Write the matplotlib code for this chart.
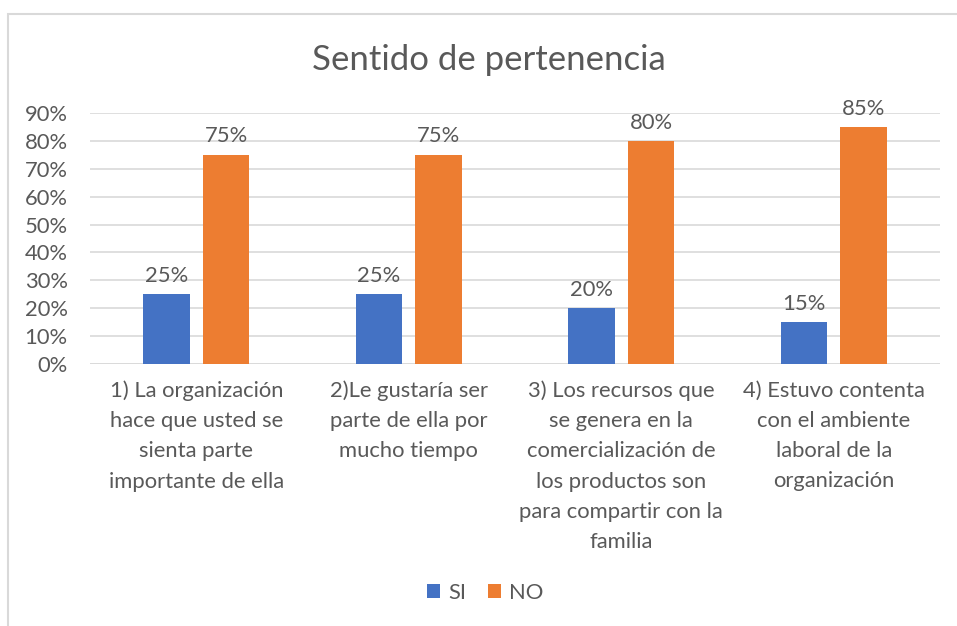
import matplotlib
matplotlib.use("Agg")
import matplotlib.pyplot as plt
from matplotlib.patches import Rectangle
import numpy as np

categorias = [
    "1) La organización\nhace que usted se\nsienta parte\nimportante de ella",
    "2)Le gustaría ser\nparte de ella por\nmucho tiempo",
    "3) Los recursos que\nse genera en la\ncomercialización de\nlos productos son\npara compartir con la\nfamilia",
    "4) Estuvo contenta\ncon el ambiente\nlaboral de la\norganización",
]
si = [0.25, 0.25, 0.20, 0.15]
no = [0.75, 0.75, 0.80, 0.85]
ticks = [0, 0.1, 0.2, 0.3, 0.4, 0.5, 0.6, 0.7, 0.8, 0.9]

plt.rcParams['font.family'] = ['Lato', 'DejaVu Sans']
gris = '#595959'
azul = '#4472C4'
naranja = '#ED7D31'
fs = 15.8

W, H = 957, 626
fig = plt.figure(figsize=(W / 100, H / 100), dpi=100)

# marco del grafico
fig.patches.append(Rectangle((8 / W, -0.1), 1.2, (H - 14) / H + 0.1,
                             transform=fig.transFigure, fill=False,
                             edgecolor='#D9D9D9', linewidth=1.5))

ax = fig.add_axes([90 / W, (H - 364) / H, (940 - 90) / W, (364 - 113) / H])

x = np.arange(len(categorias))
ancho = 0.22
sep = 0.06
b1 = ax.bar(x - (ancho + sep) / 2, si, ancho, color=azul, label='SI', zorder=3)
b2 = ax.bar(x + (ancho + sep) / 2, no, ancho, color=naranja, label='NO', zorder=3)

for barras in (b1, b2):
    for b in barras:
        ax.annotate(f"{b.get_height() * 100:.0f}%",
                    (b.get_x() + b.get_width() / 2, b.get_height()),
                    xytext=(0, 6), textcoords='offset points',
                    ha='center', va='bottom', fontsize=fs, color=gris,
                    annotation_clip=False)

ax.set_xlim(-0.5, len(categorias) - 0.5)
ax.set_ylim(0, 0.9)
ax.set_yticks(ticks)
ax.set_yticklabels([f"{t * 100:.0f}%" for t in ticks], fontsize=fs, color=gris)
ax.set_xticks(x)
ax.set_xticklabels(categorias, fontsize=fs, color=gris, linespacing=1.63, va='top')
ax.tick_params(axis='both', length=0)
ax.tick_params(axis='x', pad=12)
ax.tick_params(axis='y', pad=16)
ax.grid(True, axis='y', color='#D9D9D9', linewidth=1.2, zorder=0)
for s in ax.spines.values():
    s.set_visible(False)
ax.axhline(0, color='#D9D9D9', linewidth=1.2, zorder=1)

fig.text(489 / W, 1 - 60 / H, "Sentido de pertenencia", ha='center', va='center',
         fontsize=25, color=gris)

fig.legend(loc='center', bbox_to_anchor=(485 / W, 1 - 593 / H), ncol=2, frameon=False,
           fontsize=fs, labelcolor=gris, handlelength=0.6, handleheight=0.6,
           handletextpad=0.35, columnspacing=1.0)

fig.savefig('out.png', dpi=100)
